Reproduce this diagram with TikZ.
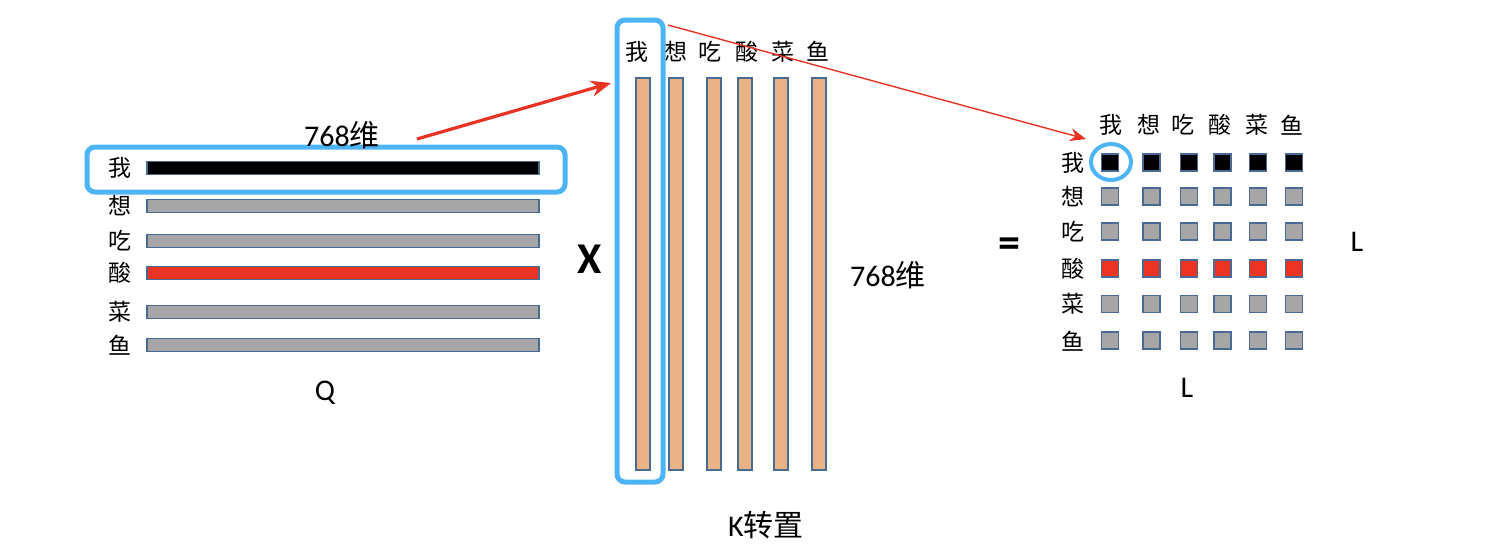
\documentclass[tikz,border=0pt]{standalone}
\usepackage{fontspec}
\setmainfont{Carlito}
\newfontfamily\cjk{Noto Sans CJK SC}
\usetikzlibrary{arrows.meta, shapes.geometric}
\definecolor{barline}{RGB}{74,106,150}
\definecolor{qgray}{RGB}{166,166,166}
\definecolor{qred}{RGB}{236,52,36}
\definecolor{ktan}{RGB}{233,179,134}
\definecolor{hlblue}{RGB}{77,181,247}
\definecolor{arrowred}{RGB}{234,51,35}

\begin{document}
\begin{tikzpicture}[x=1pt, y=-1pt,
    qbar/.style={draw=barline, line width=1.8pt, minimum width=392pt, minimum height=13pt, inner sep=0pt},
    kbar/.style={draw=barline, line width=1.8pt, fill=ktan, minimum width=14pt, minimum height=392pt, inner sep=0pt},
    cell/.style={draw=barline, line width=1.8pt, minimum size=17pt, inner sep=0pt},
    word/.style={font=\cjk\fontsize{23}{23}\selectfont, inner sep=0pt},
    lbl/.style={font=\fontsize{30}{30}\selectfont, inner sep=0pt},
    hilite/.style={draw=hlblue, line width=5pt, rounded corners=8pt, inner sep=0pt},
    arrow/.style={-{Stealth[length=16pt, width=13pt]}, draw=arrowred, fill=arrowred}
]
    \useasboundingbox (0,0) rectangle (1492,557);

    % Q
    \foreach \w/\y/\c [count=\i] in {我/168/black, 想/206/qgray, 吃/241/qgray, 酸/273/qred, 菜/312/qgray, 鱼/345/qgray} {
        \node[word] (qw\i) at (120,\y) {\w};
        \node[qbar, fill=\c] (q\i) at (343,\y) {};
    }
    \node[hilite, minimum width=478pt, minimum height=45pt] (qsel) at (326,169.5) {};
    \node[lbl] (qdim) at (342,135) {768{\cjk 维}};
    \node[lbl] (qname) at (325,393) {Q};

    % K transposed
    \foreach \w/\x/\lx [count=\i] in {我/643/637, 想/676/676, 吃/714/710, 酸/745/747, 菜/781/783, 鱼/819/818} {
        \node[word] (kw\i) at (\lx,51.5) {\w};
        \node[kbar] (k\i) at (\x,274) {};
    }
    \node[hilite, minimum width=46pt, minimum height=462pt] (ksel) at (640,251) {};
    \node[lbl] (kdim) at (888,275) {768{\cjk 维}};
    \node[lbl] (kname) at (766,525) {K{\cjk 转置}};

    \node[font=\bfseries\fontsize{44}{44}\selectfont, inner sep=0pt] (times) at (590,259) {X};
    \node[font=\bfseries\fontsize{44}{44}\selectfont, inner sep=0pt] (equals) at (1009,248) {=};

    % L x L
    \foreach \w/\x [count=\i] in {我/1111, 想/1149, 吃/1183, 酸/1220, 菜/1257, 鱼/1292} {
        \node[word] (cw\i) at (\x,125) {\w};
    }
    \foreach \w/\y/\c [count=\r] in {我/162.7/black, 想/196.7/qgray, 吃/231.7/qgray, 酸/268.3/qred, 菜/304/qgray, 鱼/340.7/qgray} {
        \node[word] (rw\r) at (1073,\y) {\w};
        \foreach \x [count=\s] in {1110, 1151.7, 1189, 1222.7, 1258, 1294} {
            \node[cell, fill=\c] (m\r\s) at (\x,\y) {};
        }
    }
    \node[draw=hlblue, line width=4pt, ellipse, minimum width=40pt, minimum height=36pt] (msel) at (1111,162) {};
    \node[lbl] (lcols) at (1187,388) {L};
    \node[lbl] (lrows) at (1357,242) {L};

    % arrows
    \coordinate (a1) at (417,139);
    \coordinate (a2) at (611,83);
    \coordinate (b1) at (668,25);
    \coordinate (b2) at (1086,139);
    \draw[arrow, line width=3.2pt, -{Stealth[length=20pt, width=16pt]}] (a1) -- (a2);
    \draw[arrow, line width=1.4pt] (b1) -- (b2);
\end{tikzpicture}
\end{document}
